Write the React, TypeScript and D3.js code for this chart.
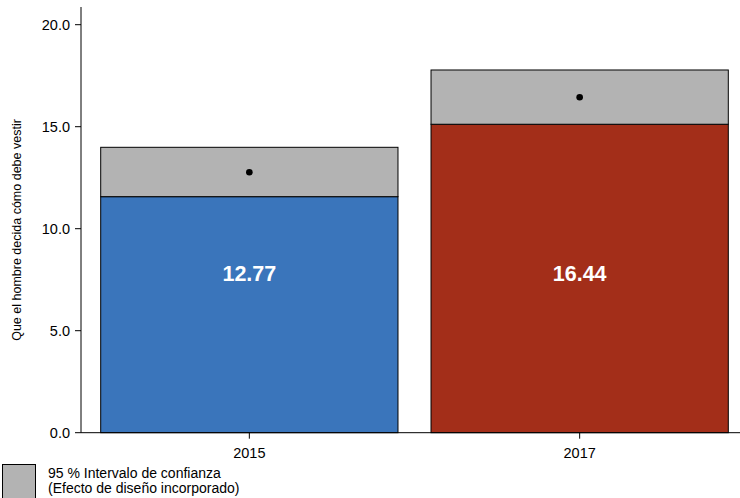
import React from "react";
import * as d3 from "d3";

const categories = ["2015", "2017"];
const estimates = [12.77, 16.44];
const ciLower = [11.57, 15.12];
const ciUpper = [13.99, 17.78];
const barColors = ["#3a75bb", "#a32e19"];
const yTicks = [0, 5, 10, 15, 20];
const yLabel = "Que el hombre decida cómo debe vestir";
const legendLines = ["95 % Intervalo de confianza", "(Efecto de diseño incorporado)"];

export default function App() {
  const W = 740, H = 498;
  const font = "'Liberation Sans', Arial, Helvetica, sans-serif";
  const y = d3.scaleLinear().domain([0, 20]).range([432.7, 24.7]);
  const x = d3.scaleBand().domain(categories).range([100.7, 728.3]).paddingInner(0.1).paddingOuter(0);
  const axisX = 81;
  const bw = x.bandwidth();
  const labelY = y(7.8);
  return (
    <svg width={W} height={H} style={{ position: "absolute", left: 0, top: 0, background: "#fff" }} fontFamily={font}>
      {categories.map((c, i) => {
        const x0 = x(c)!;
        return (
          <g key={c}>
            <rect x={x0} y={y(ciLower[i])} width={bw} height={y(0) - y(ciLower[i])} fill={barColors[i]} stroke="#000" strokeWidth={1} />
            <rect x={x0} y={y(ciUpper[i])} width={bw} height={y(ciLower[i]) - y(ciUpper[i])} fill="#b3b3b3" stroke="#000" strokeWidth={1} />
            <circle cx={x0 + bw / 2} cy={y(estimates[i])} r={3.3} fill="#000" />
            <text x={x0 + bw / 2} y={labelY} dy="0.35em" textAnchor="middle" fill="#fff" fontWeight="bold" fontSize={21.5}>
              {estimates[i].toFixed(2)}
            </text>
          </g>
        );
      })}
      {/* y axis */}
      <line x1={axisX} x2={axisX} y1={7} y2={y(0)} stroke="#000" strokeWidth={1} />
      {yTicks.map((t) => (
        <g key={t}>
          <line x1={axisX - 6} x2={axisX} y1={y(t)} y2={y(t)} stroke="#000" strokeWidth={1} />
          <text x={axisX - 11} y={y(t)} dy="0.35em" textAnchor="end" fontSize={14.5} fill="#000">
            {t.toFixed(1)}
          </text>
        </g>
      ))}
      {/* x axis */}
      <line x1={axisX} x2={W} y1={y(0)} y2={y(0)} stroke="#000" strokeWidth={1} />
      {categories.map((c) => (
        <g key={c}>
          <line x1={x(c)! + bw / 2} x2={x(c)! + bw / 2} y1={y(0)} y2={y(0) + 6} stroke="#000" strokeWidth={1} />
          <text x={x(c)! + bw / 2} y={y(0) + 20} dy="0.35em" textAnchor="middle" fontSize={14.5} fill="#000">
            {c}
          </text>
        </g>
      ))}
      <text transform={`translate(21,230) rotate(-90)`} textAnchor="middle" fontSize={12.5} fill="#000">
        {yLabel}
      </text>
      {/* legend */}
      <rect x={2.5} y={464.5} width={33} height={34} fill="#b3b3b3" stroke="#000" strokeWidth={1} />
      {legendLines.map((l, i) => (
        <text key={i} x={48} y={473 + i * 15} dy="0.35em" fontSize={14} fill="#000">
          {l}
        </text>
      ))}
    </svg>
  );
}
